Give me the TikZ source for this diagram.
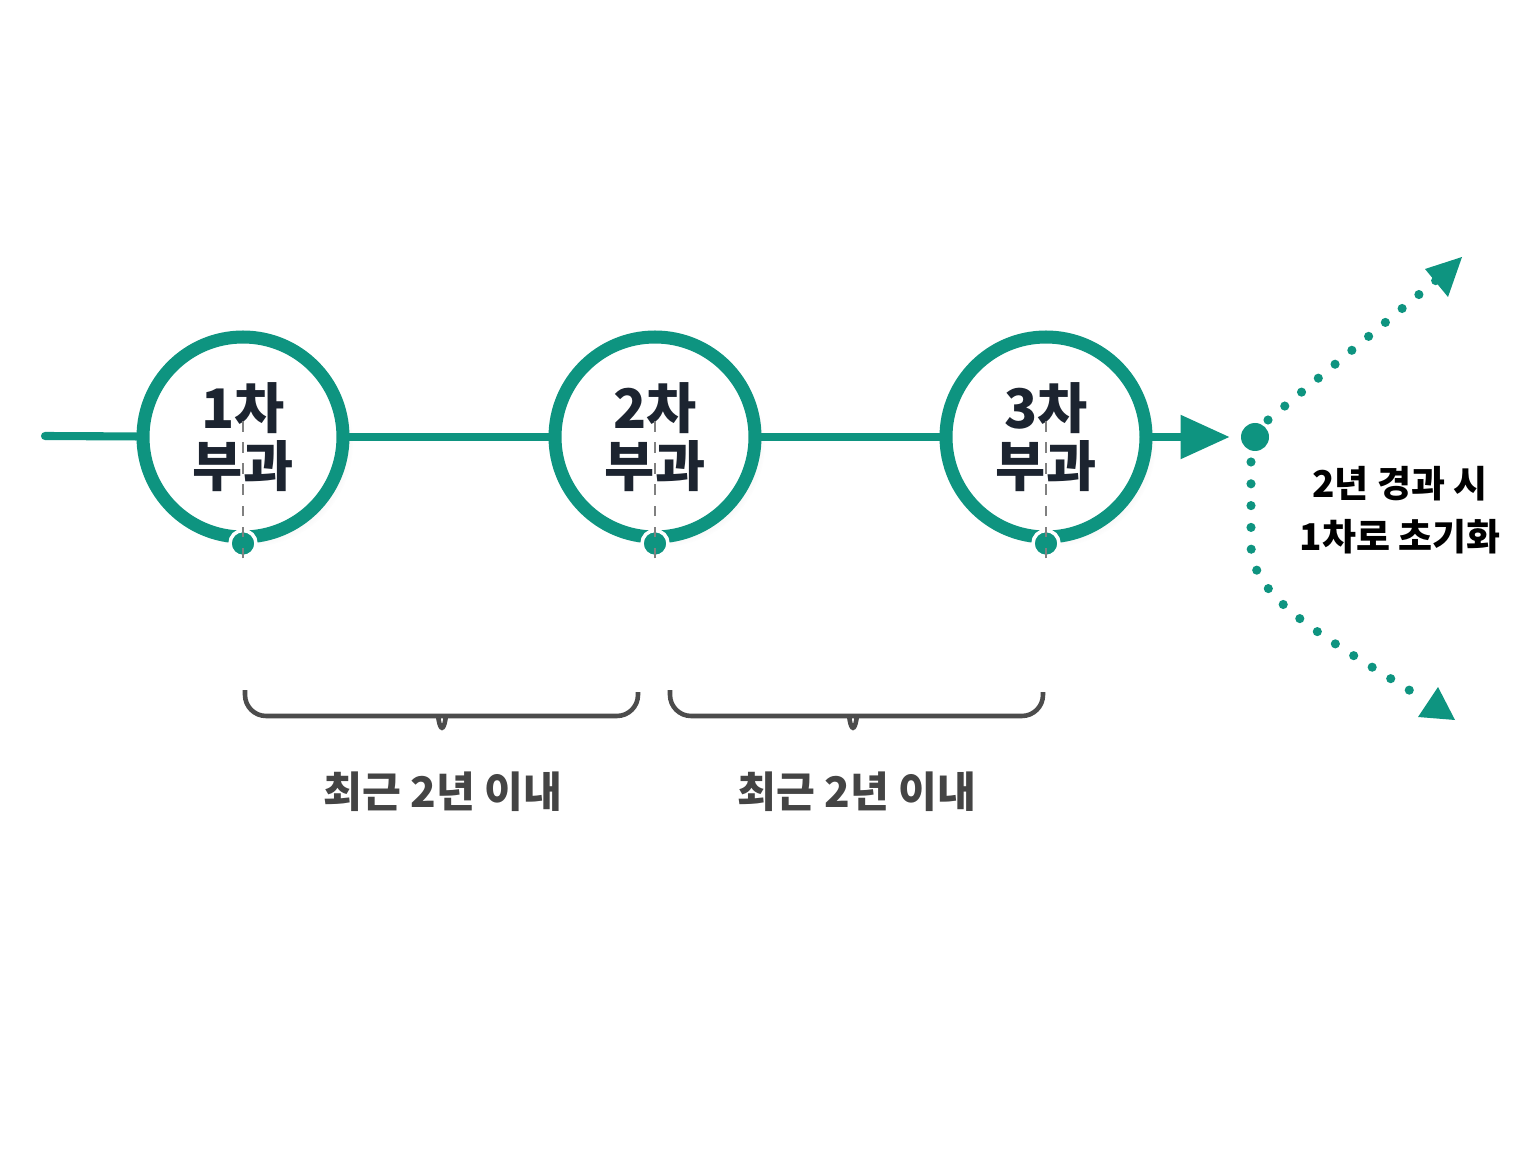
\documentclass[tikz,border=0pt]{standalone}
\usepackage{fontspec}
\setmainfont{Noto Sans CJK KR}
\usetikzlibrary{shadows,arrows.meta}
\definecolor{teal1}{HTML}{0E9480}
\definecolor{ink}{HTML}{1C2430}
\definecolor{gray1}{HTML}{444444}
\tikzset{>=Triangle,
  stage/.style={circle, draw=teal1, line width=13pt*0.2845, fill=white,
    minimum size=200*0.01cm, inner sep=0pt, align=center,
    font=\fontsize{15.5}{16.5}\selectfont\bfseries, text=ink,
    circular drop shadow={shadow scale=1.04, opacity=0.12}},
  pin/.style={circle, fill=teal1, draw=white, line width=1pt, minimum size=26*0.01cm, inner sep=0pt},
  flow/.style={teal1, line width=2.3pt, line cap=round},
  dots/.style={teal1, line width=2.6pt, line cap=round, dash pattern=on 0pt off 6.2pt},
  brace/.style={gray!60!black, line width=1.3pt, rounded corners=6pt},
  period/.style={font=\fontsize{12}{14}\selectfont\bfseries, text=gray1}
}
\begin{document}
\begin{tikzpicture}[x=0.01cm,y=-0.01cm]
  \useasboundingbox[fill=white] (0,0) rectangle (1536,1152);
  \coordinate (start) at (45,436);
  \node[stage] (c1) at (243,437) {1차\\부과};
  \node[stage] (c2) at (655,437) {2차\\부과};
  \node[stage] (c3) at (1046,437) {3차\\부과};
  \node[circle, fill=teal1, minimum size=28*0.01cm, inner sep=0pt] (hub) at (1255,437) {};
  \draw[flow] (start) -- (c1);
  \draw[flow] (c1) -- (c2);
  \draw[flow] (c2) -- (c3);
  \draw[flow, -{Triangle[length=14pt,width=12pt]}, shorten >=3pt] (c3) -- (hub);
  % reset branches
  \coordinate (up) at (1462,257);
  \coordinate (down) at (1455,720);
  \draw[dots] (1268,420) -- (1440,277);
  \fill[teal1] (up) -- ++(-37,12) -- ++(23,28) -- cycle;
  \draw[dots] (1251,462) -- (1251,545) .. controls (1251,600) and (1330,640) .. (1425,700);
  \fill[teal1] (down) -- ++(-37,-3) -- ++(20,-30) -- cycle;
  \node[font=\fontsize{10.5}{15}\selectfont\bfseries, text=black, align=center] (note) at (1400,510) {2년 경과 시\\1차로 초기화};
  % pins and guides
  \foreach \c in {c1,c2,c3} {
    \node[pin] (p\c) at (\c.south) {};
    \draw[gray, dashed, line width=0.5pt] (p\c.south) -- ++(0,-140);
  }
  % braces
  \draw[brace] (245,690) -- (245,716) -- (425,716) .. controls (438,716) .. (442,740)
     .. controls (446,716) .. (459,716) -- (638,716) -- (638,692);
  \draw[brace] (670,690) -- (670,716) -- (836,716) .. controls (849,716) .. (853,740)
     .. controls (857,716) .. (870,716) -- (1043,716) -- (1043,692);
  \node[period] (t1) at (443,792) {최근 2년 이내};
  \node[period] (t2) at (857,792) {최근 2년 이내};
\end{tikzpicture}
\end{document}
